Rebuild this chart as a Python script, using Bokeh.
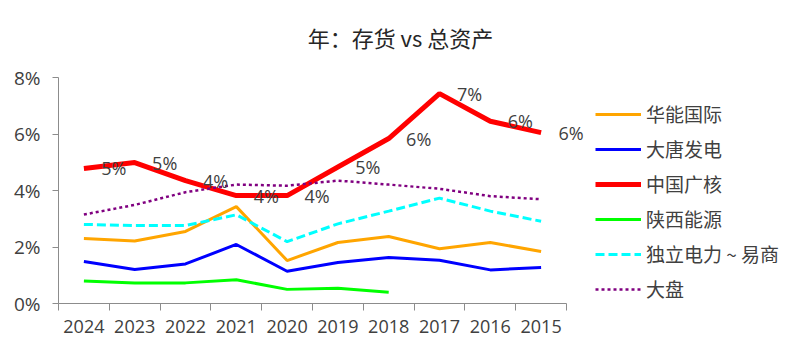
import numpy as np
from bokeh.plotting import figure
from bokeh.models import (Range1d, FixedTicker, PrintfTickFormatter, Legend, LegendItem,
                          LabelSet, ColumnDataSource, Label)
from bokeh.core.properties import value
from bokeh.embed import file_html
from bokeh.resources import INLINE

years = ["2024", "2023", "2022", "2021", "2020", "2019", "2018", "2017", "2016", "2015"]
huaneng = [2.30, 2.21, 2.55, 3.43, 1.52, 2.16, 2.37, 1.94, 2.16, 1.84]
datang = [1.49, 1.20, 1.40, 2.09, 1.14, 1.45, 1.63, 1.53, 1.19, 1.27]
cgn = [4.78, 4.99, 4.35, 3.82, 3.82, 4.83, 5.84, 7.43, 6.45, 6.05]
shaanxi = [0.80, 0.73, 0.73, 0.84, 0.50, 0.54, 0.40]
indep = [2.80, 2.76, 2.76, 3.14, 2.19, 2.82, 3.27, 3.73, 3.27, 2.91]
market = [3.15, 3.49, 3.94, 4.21, 4.17, 4.35, 4.21, 4.06, 3.80, 3.69]
y_ticks = [0, 2, 4, 6, 8]
title_text = "年：存货 vs 总资产"
names = ["华能国际", "大唐发电", "中国广核", "陕西能源", "独立电力 ~ 易商", "大盘"]

CJK = "Noto Sans CJK SC"
NUM = "Open Sans"
TXT = "#404040"
AX = "#8c8c8c"

# layout (pixels)
W, H = 800, 353
LEFT, BOTTOM = 58, 50
PX_PER_CAT = 50.8
PX_PER_PCT = 28.25

n = len(years)
xc = np.arange(n) + 0.5
x_end = (W - LEFT) / PX_PER_CAT
y_end = (H - BOTTOM) / PX_PER_PCT

p = figure(width=W, height=H, output_backend="svg", toolbar_location=None,
           x_range=Range1d(0, x_end), y_range=Range1d(0, y_end),
           min_border=0, min_border_left=LEFT, min_border_bottom=BOTTOM)
p.outline_line_color = None
p.grid.visible = False
p.background_fill_color = "white"

# x axis: labels at centers, tick marks at boundaries
p.xaxis.bounds = (0, n)
p.xaxis.ticker = FixedTicker(ticks=list(xc), minor_ticks=list(range(n + 1)))
p.xaxis.major_label_overrides = {float(x): y for x, y in zip(xc, years)}
p.xaxis.major_tick_line_color = None
p.xaxis.minor_tick_line_color = AX
p.xaxis.minor_tick_in = 0
p.xaxis.minor_tick_out = 7
p.xaxis.axis_line_color = AX
p.xaxis.major_label_standoff = 9
p.xaxis.major_label_text_font = NUM
p.xaxis.major_label_text_font_size = "18px"
p.xaxis.major_label_text_color = TXT

p.yaxis.bounds = (0, 8)
p.yaxis.ticker = FixedTicker(ticks=y_ticks)
p.yaxis.formatter = PrintfTickFormatter(format="%d%%")
p.yaxis.major_tick_in = 0
p.yaxis.major_tick_out = 6
p.yaxis.major_tick_line_color = AX
p.yaxis.minor_tick_line_color = None
p.yaxis.axis_line_color = AX
p.yaxis.major_label_standoff = 12
p.yaxis.major_label_text_font = NUM
p.yaxis.major_label_text_font_size = "19px"
p.yaxis.major_label_text_color = TXT

r1 = p.line(xc, huaneng, line_color="#FFA500", line_width=3)
r2 = p.line(xc, datang, line_color="#0000FF", line_width=3)
r3 = p.line(xc, cgn, line_color="#FF0000", line_width=5)
r4 = p.line(xc[:len(shaanxi)], shaanxi, line_color="#00FF00", line_width=3)
r5 = p.line(xc, indep, line_color="#00FFFF", line_width=3, line_dash="9 4")
r6 = p.line(xc, market, line_color="#800080", line_width=2.5, line_dash="3 3")

src = ColumnDataSource(dict(x=xc, y=cgn, t=["%d%%" % round(v) for v in cgn]))
p.add_layout(LabelSet(x="x", y="y", text="t", source=src, x_offset=30,
                      text_align="center", text_baseline="middle",
                      text_font=value(NUM), text_font_size=value("18px"), text_color=TXT))

# title, centred on the canvas
p.add_layout(Label(x=(W / 2 - LEFT) / PX_PER_CAT, y=(H - BOTTOM - 36) / PX_PER_PCT,
                   text=title_text, text_align="center", text_baseline="middle",
                   text_font=CJK, text_font_size="22px", text_color="#262626"))

legend = Legend(items=[LegendItem(label=nm, renderers=[r]) for nm, r in
                       zip(names, [r1, r2, r3, r4, r5, r6])],
                location=(595 - LEFT, 1), orientation="vertical",
                glyph_width=46, glyph_height=20, label_height=20, spacing=8,
                label_standoff=5, padding=0, margin=0,
                border_line_color=None, background_fill_alpha=0,
                label_text_font=CJK, label_text_font_size="19px", label_text_color=TXT)
p.add_layout(legend)

open("out.html", "w").write(file_html(p, INLINE))
